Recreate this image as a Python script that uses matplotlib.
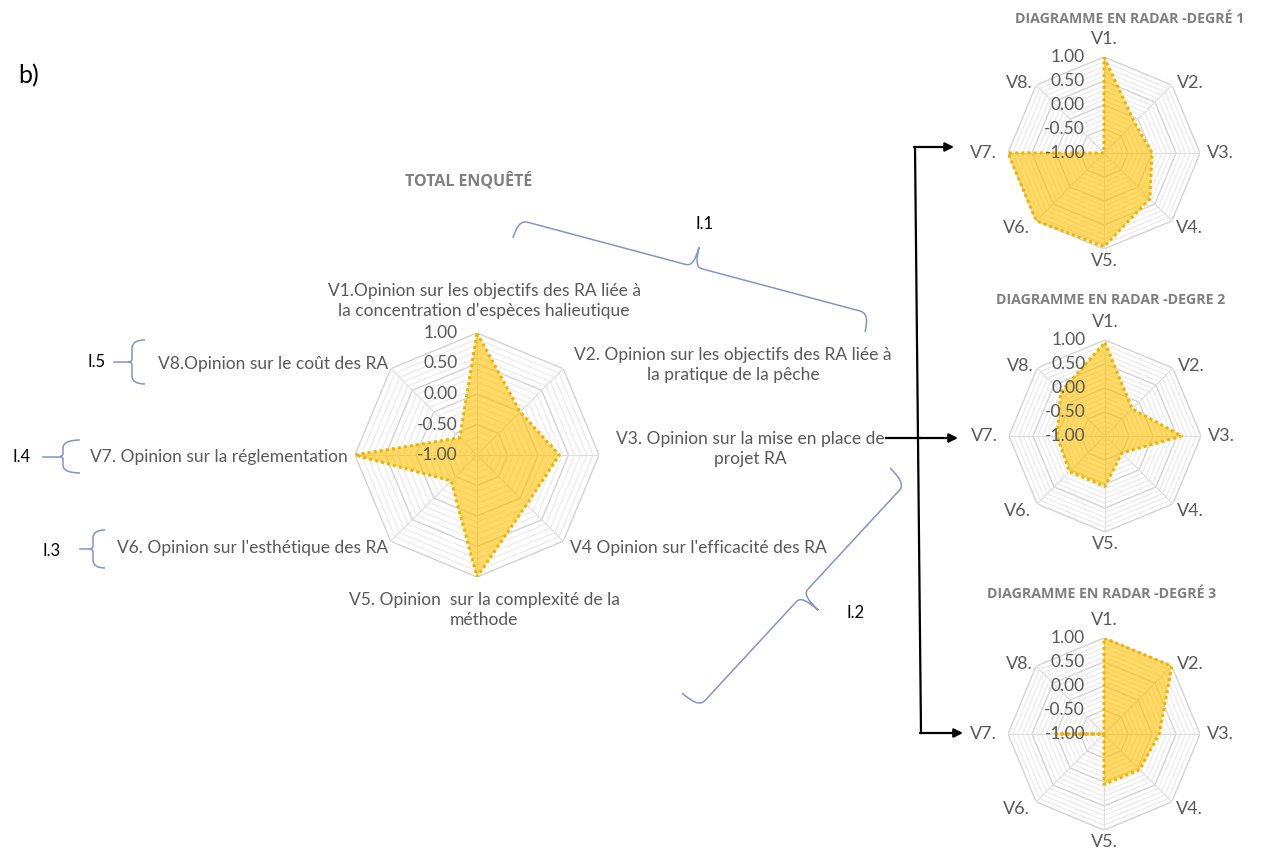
import numpy as np
import matplotlib
matplotlib.use("Agg")
import matplotlib.pyplot as plt
from matplotlib.path import Path
from matplotlib.patches import PathPatch

# ---------------- data ----------------
categories = ["V1.", "V2.", "V3.", "V4.", "V5.", "V6.", "V7.", "V8."]
total_values = [1.00, 0.00, 0.35, 0.15, 1.00, -0.40, 1.00, -0.60]
degree1_values = [1.00, -0.10, 0.00, 0.35, 0.95, 1.00, 1.00, -1.00]
degree2_values = [0.95, -0.20, 0.60, -0.50, 0.05, 0.05, 0.00, 0.30]
degree3_values = [1.00, 1.00, 0.15, 0.05, 0.05, -1.00, 0.00, -1.00]
radial_ticks = [1.00, 0.50, 0.00, -0.50, -1.00]

main_title = "TOTAL ENQUÊTÉ"
small_titles = ["DIAGRAMME EN RADAR -DEGRÉ 1",
                "DIAGRAMME EN RADAR -DEGRE 2",
                "DIAGRAMME EN RADAR -DEGRÉ 3"]
main_labels = [
    "V1.Opinion sur les objectifs des RA liée à\nla concentration d'espèces halieutique",
    "V2. Opinion sur les objectifs des RA liée à\nla pratique de la pêche",
    "V3. Opinion sur la mise en place de\nprojet RA",
    "V4 Opinion sur l'efficacité des RA",
    "V5. Opinion  sur la complexité de la\nméthode",
    "V6. Opinion sur l'esthétique des RA",
    "V7. Opinion sur la réglementation",
    "V8.Opinion sur le coût des RA",
]
group_labels = ["I.1", "I.2", "I.3", "I.4", "I.5"]

# ---------------- setup ----------------
W, H = 1261, 858
plt.rcParams['font.family'] = ['Lato', 'DejaVu Sans']
fig = plt.figure(figsize=(W / 100, H / 100), dpi=100)
fig.patch.set_facecolor('white')

GRAY_TXT = '#595959'
FILL = '#FFC000'
EDGE = '#F2B200'
BRACE = '#8096C4'

n = len(categories)
theta = np.linspace(0, 2 * np.pi, n, endpoint=False)
theta_c = np.append(theta, theta[0])


def make_radar(cx, cy, R, values, fs_tick):
    ax = fig.add_axes([(cx - R) / W, (H - cy - R) / H, 2 * R / W, 2 * R / H],
                      projection='polar', zorder=2)
    ax.set_theta_zero_location('N')
    ax.set_theta_direction(-1)
    ax.set_ylim(-1, 1)
    ax.grid(False)
    ax.set_xticks([])
    ax.set_yticks([])
    ax.spines['polar'].set_visible(False)
    ax.patch.set_alpha(0)
    for lv in np.arange(-0.9, 1.001, 0.1):
        major = abs((lv * 2) - round(lv * 2)) < 1e-6
        ax.plot(theta_c, [lv] * (n + 1),
                color='#D3D3D3' if major else '#E8E8E8',
                lw=1.0 if major else 0.7, zorder=1)
    for t in theta:
        ax.plot([t, t], [-1, 1], color='#DDDDDD', lw=0.8, zorder=1)
    vals = np.append(values, values[0])
    ax.fill(theta_c, vals, color=FILL, alpha=0.6, lw=0, zorder=2)
    ax.plot(theta_c, vals, color=EDGE, lw=2.2, ls=(0, (1, 1)), zorder=3)
    for v in radial_ticks:
        ax.annotate(f"{v:.2f}", xy=(0, v), xytext=(-19, 0),
                    textcoords='offset pixels', ha='right', va='center',
                    fontsize=fs_tick, color=GRAY_TXT, zorder=5,
                    annotation_clip=False)
    return ax


MCX, MCY, MR = 477, 455, 122
make_radar(MCX, MCY, MR, total_values, 12.5)

small_centers = [(1104, 153), (1105, 436), (1104, 734)]
SR = 96
small_data = [degree1_values, degree2_values, degree3_values]
for (cx, cy), vals in zip(small_centers, small_data):
    make_radar(cx, cy, SR, vals, 12.5)

# ---------------- overlay for text/annotations ----------------
ov = fig.add_axes([0, 0, 1, 1], zorder=10)
ov.set_xlim(0, W)
ov.set_ylim(H, 0)
ov.axis('off')
ov.patch.set_alpha(0)

FS = 12.5
ov.text(18, 76, "b)", fontsize=18, color='black', va='center', ha='left')
ov.text(469, 181, main_title, fontsize=11.5, fontweight='bold', color='#7F7F7F',
        ha='center', va='center', family=['Open Sans', 'DejaVu Sans'])

lab_pos = [
    (484, 301, 'center'),
    (733, 365, 'center'),
    (750, 449, 'center'),
    (570, 548, 'left'),
    (484, 610, 'center'),
    (388, 548, 'right'),
    (348, 457, 'right'),
    (388, 364, 'right'),
]
for txt, (x, y, ha) in zip(main_labels, lab_pos):
    ov.text(x, y, txt, fontsize=FS, color=GRAY_TXT, ha=ha, va='center',
            multialignment='center', linespacing=1.25)

title_pos = [(1130, 19), (1111, 300), (1102, 594)]
for (tx, ty), t in zip(title_pos, small_titles):
    ov.text(tx, ty, t, fontsize=10.2, fontweight='bold', color='#7F7F7F',
            ha='center', va='center', family=['Open Sans', 'DejaVu Sans'])
offs = [(0, -114), (86, -70), (116, 0), (85, 75), (0, 108), (-88, 75), (-121, 0), (-85, -70)]
for (cx, cy) in small_centers:
    for lab, (dx, dy) in zip(categories, offs):
        ov.text(cx + dx, cy + dy, lab, fontsize=13, color=GRAY_TXT,
                ha='center', va='center')


def brace(A, B, sign, h1, h2, r1, r2):
    A = np.array(A, float)
    B = np.array(B, float)
    L = np.linalg.norm(B - A)
    t = (B - A) / L
    nrm = np.array([-t[1], t[0]]) * sign
    local = [(0, 0), (0, h1), (r1, h1), (L / 2 - r2, h1), (L / 2, h1), (L / 2, h1 + h2),
             (L / 2, h1), (L / 2 + r2, h1), (L - r1, h1), (L, h1), (L, 0)]
    codes = [Path.MOVETO, Path.CURVE3, Path.CURVE3, Path.LINETO, Path.CURVE3, Path.CURVE3,
             Path.CURVE3, Path.CURVE3, Path.LINETO, Path.CURVE3, Path.CURVE3]
    verts = [A + u * t + v * nrm for u, v in local]
    ov.add_patch(PathPatch(Path(verts, codes), fill=False, edgecolor=BRACE, lw=1.1))


brace((513, 238), (865, 332), -1, 19, 20, 10, 8)    # I.1
brace((890, 468), (682, 693), -1, 22, 22, 10, 8)    # I.2
brace((105, 530), (105, 568), 1, 12, 3, 8, 3)       # I.3
brace((80, 440), (80, 473), 1, 17, 3, 8, 3)         # I.4
brace((145, 340), (145, 384), 1, 13, 4, 8, 3)       # I.5
ov.plot([80, 91], [549, 549], color=BRACE, lw=1.1)
ov.plot([43, 60], [457, 457], color=BRACE, lw=1.1)
ov.plot([114, 128], [362, 362], color=BRACE, lw=1.1)

gl_pos = [(705, 224), (856, 613), (52, 551), (22, 457), (97, 362)]
for g, (x, y) in zip(group_labels, gl_pos):
    ov.text(x, y, g, fontsize=12, color='black', ha='center', va='center')

ov.plot([886, 920], [438, 438], color='black', lw=1.6)
ov.plot([915, 921], [147, 733], color='black', lw=1.6)
ap = dict(arrowstyle='-|>', color='black', lw=1.6, mutation_scale=13, shrinkA=0, shrinkB=0)
ov.annotate('', xy=(958, 438), xytext=(918, 438), arrowprops=ap)
ov.annotate('', xy=(954, 147), xytext=(914, 147), arrowprops=ap)
ov.annotate('', xy=(963, 733), xytext=(920, 733), arrowprops=ap)

fig.savefig('out.png', dpi=100, facecolor='white')
